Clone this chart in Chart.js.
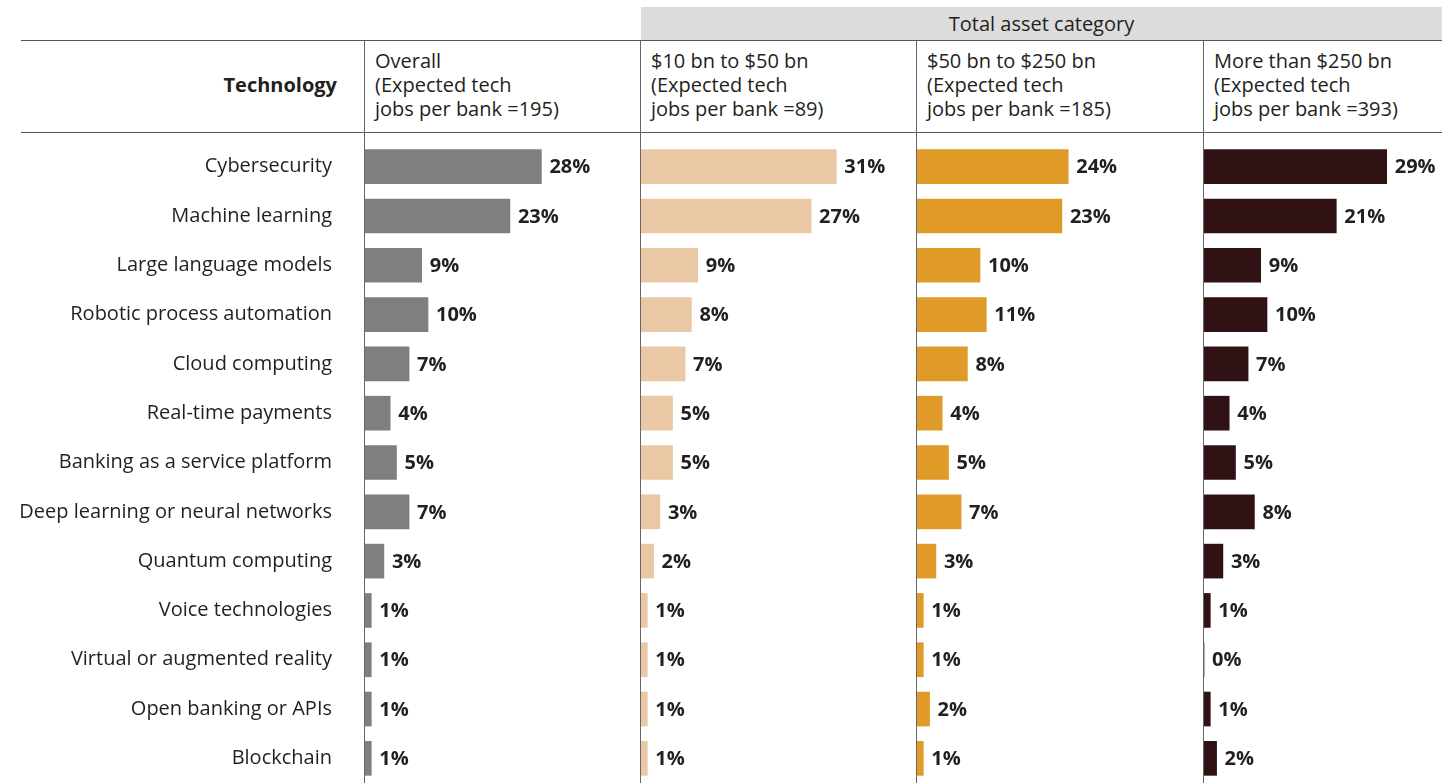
<!DOCTYPE html>
<html>
<head>
<meta charset="utf-8">
<script src="https://cdn.jsdelivr.net/npm/chart.js@4"></script>
<style>
  body { margin: 0; background: #fff; }
  #wrap { position: relative; width: 1442px; height: 783px; overflow: hidden;
          font-family: "Open Sans", sans-serif; color: #231f20; }
  .hline { position: absolute; left: 21px; right: 0; height: 0; border-top: 1px solid #555; }
  .vline { position: absolute; top: 41px; bottom: 0; width: 0; border-left: 1px solid #666; }
  .band { position: absolute; left: 641px; right: 0; top: 7px; height: 34px; background: #dcdcdc;
          font-size: 20px; line-height: 34px; text-align: center; }
  .colhead { position: absolute; top: 49px; font-size: 20px; line-height: 24px; white-space: nowrap; }
  .techhead { position: absolute; top: 73px; right: 1105px; font-size: 20px; line-height: 24px; font-weight: bold; }
  canvas { position: absolute; top: 132px; }
</style>
</head>
<body>
<div id="wrap">
  <div class="band">Total asset category</div>
  <div class="hline" style="top:40px"></div>
  <div class="hline" style="top:132px"></div>
  <div class="vline" style="left:364px"></div>
  <div class="vline" style="left:640px"></div>
  <div class="vline" style="left:916px"></div>
  <div class="vline" style="left:1203px"></div>
  <div class="techhead">Technology</div>
  <div class="colhead" id="h0" style="left:375px"></div>
  <div class="colhead" id="h1" style="left:651px"></div>
  <div class="colhead" id="h2" style="left:927px"></div>
  <div class="colhead" id="h3" style="left:1214px"></div>
  <canvas id="c0" width="641" height="651" style="left:0px"></canvas>
  <canvas id="c1" width="276" height="651" style="left:641px"></canvas>
  <canvas id="c2" width="287" height="651" style="left:917px"></canvas>
  <canvas id="c3" width="238" height="651" style="left:1204px"></canvas>
</div>

<script>
const technologies = [
  "Cybersecurity", "Machine learning", "Large language models",
  "Robotic process automation", "Cloud computing", "Real-time payments",
  "Banking as a service platform", "Deep learning or neural networks",
  "Quantum computing", "Voice technologies", "Virtual or augmented reality",
  "Open banking or APIs", "Blockchain"
];

const groupNames = ["Overall", "$10 bn to $50 bn", "$50 bn to $250 bn", "More than $250 bn"];
const jobsPerBank = [195, 89, 185, 393];

// share of expected tech jobs, %
const overall   = [28, 23, 9, 10, 7, 4, 5, 7, 3, 1, 1, 1, 1];
const assets10  = [31, 27, 9, 8, 7, 5, 5, 3, 2, 1, 1, 1, 1];
const assets50  = [24, 23, 10, 11, 8, 4, 5, 7, 3, 1, 1, 2, 1];
const assets250 = [29, 21, 9, 10, 7, 4, 5, 8, 3, 1, 0, 1, 2];

const series = [overall, assets10, assets50, assets250];
const colors = ["#7e7f7e", "#eac8a6", "#e09a28", "#301215"];

const PX_PER_PCT = 6.3;
const LABEL_COL = 365; // width of the technology name column

// header cells
groupNames.forEach((name, i) => {
  document.getElementById('h' + i).innerHTML =
    name + '<br>(Expected tech<br>jobs per bank =' + jobsPerBank[i] + ')';
});

// value label after each bar
const valueLabels = {
  id: 'valueLabels',
  afterDatasetsDraw(chart) {
    const ctx = chart.ctx;
    const meta = chart.getDatasetMeta(0);
    const data = chart.data.datasets[0].data;
    ctx.save();
    ctx.font = 'bold 20px "Open Sans", sans-serif';
    ctx.fillStyle = '#231f20';
    ctx.textAlign = 'left';
    ctx.textBaseline = 'middle';
    meta.data.forEach((bar, i) => {
      ctx.fillText(data[i] + '%', bar.x + 8, bar.y + 1);
    });
    ctx.restore();
  }
};

series.forEach((values, i) => {
  const canvas = document.getElementById('c' + i);
  const first = i == 0;
  const plotWidth = first ? canvas.width - LABEL_COL : canvas.width;

  const yAxis = {
    display: first,
    grid: { display: false, drawTicks: false },
    border: { display: false },
    ticks: {
      color: '#231f20',
      padding: 33,
      font: { family: '"Open Sans", sans-serif', size: 20 }
    }
  };
  if (first) {
    yAxis.afterFit = scale => {
      scale.width = LABEL_COL;
      scale.paddingTop = 0;
      scale.paddingBottom = 0;
    };
  }

  new Chart(canvas, {
    type: 'bar',
    data: {
      labels: technologies,
      datasets: [{
        data: values,
        backgroundColor: colors[i],
        borderWidth: 0,
        barThickness: 34
      }]
    },
    options: {
      indexAxis: 'y',
      responsive: false,
      animation: false,
      events: [],
      layout: { padding: { top: 10, left: 0, right: 0, bottom: 0 } },
      plugins: { legend: { display: false }, tooltip: { enabled: false } },
      scales: {
        x: {
          display: false,
          min: 0,
          max: plotWidth / PX_PER_PCT
        },
        y: yAxis
      }
    },
    plugins: [valueLabels]
  });
});
</script>
</body>
</html>
